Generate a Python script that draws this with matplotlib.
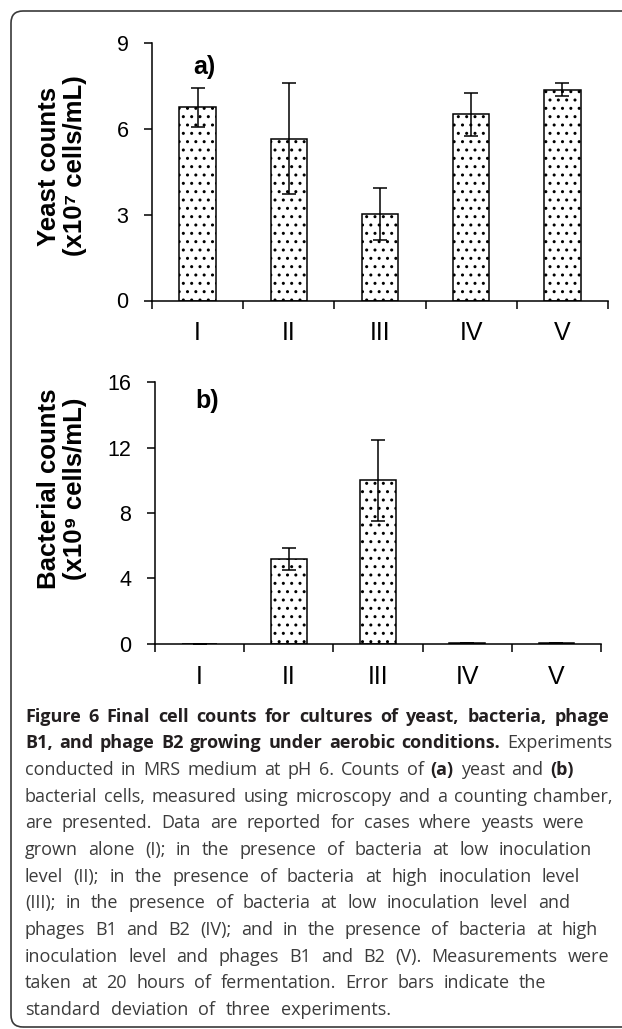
import numpy as np
import matplotlib
matplotlib.use("Agg")
import matplotlib.pyplot as plt
from matplotlib.patches import FancyBboxPatch
from matplotlib.transforms import IdentityTransform

# data
groups = ["I", "II", "III", "IV", "V"]
yeast = [6.75, 5.66, 3.02, 6.51, 7.37]
yeast_sd = [0.67, 1.95, 0.91, 0.75, 0.23]
bact = [0.0, 5.19, 10.0, 0.02, 0.04]
bact_sd = [0.0, 0.65, 2.48, 0.0, 0.0]

W, H = 622, 1029
plt.rcParams['font.family'] = ['Liberation Sans', 'DejaVu Sans']
plt.rcParams['hatch.linewidth'] = 1.0
fig = plt.figure(figsize=(W / 100, H / 100), dpi=100)


def panel(rect, vals, sd, ymax, yticks, tag, tag_y):
    ax = fig.add_axes(rect)
    x = np.arange(1, len(groups) + 1)
    ax.bar(x, vals, width=0.4, color="white", edgecolor="black",
           linewidth=1.1, hatch="..", zorder=2)
    ax.errorbar(x, vals, yerr=sd, fmt="none", ecolor="black",
                elinewidth=1.1, capsize=5, capthick=1.1, zorder=3)
    ax.set_xlim(0.5, len(groups) + 0.5)
    ax.set_ylim(0, ymax)
    ax.set_yticks(yticks)
    ax.set_xticks(np.arange(0.5, len(groups) + 1, 1))
    ax.set_xticklabels([])
    ax.set_xticks(x, minor=True)
    ax.set_xticklabels(groups, minor=True, fontsize=18)
    ax.tick_params(axis="x", which="major", length=6, width=1.1, direction="out")
    ax.tick_params(axis="x", which="minor", length=0, pad=15)
    ax.tick_params(axis="y", length=6, width=1.1, pad=11, labelsize=15.5)
    for s in ["top", "right"]:
        ax.spines[s].set_visible(False)
    for s in ["left", "bottom"]:
        ax.spines[s].set_linewidth(1.1)
    ax.text(0.09, tag_y, tag, transform=ax.transAxes, fontsize=18,
            fontweight="bold", va="center", ha="left")
    return ax


panel([152 / W, 1 - 300.5 / H, 456 / W, 257.5 / H], yeast, yeast_sd, 9,
      [0, 3, 6, 9], "a)", 0.905)
panel([155 / W, 1 - 643.7 / H, 446 / W, 261.4 / H], bact, bact_sd, 16,
      [0, 4, 8, 12, 16], "b)", 0.93)

fig.text(62 / W, 1 - 166 / H, "Yeast counts\n(x10\u2077 cells/mL)", rotation=90,
         ha="center", va="center", fontsize=18.5, fontweight="bold",
         multialignment="center", linespacing=1.1)
fig.text(62 / W, 1 - 489 / H, "Bacterial counts\n(x10\u2079 cells/mL)", rotation=90,
         ha="center", va="center", fontsize=18.5, fontweight="bold",
         multialignment="center", linespacing=1.1)

# rounded frame (runs off the right edge)
frame = FancyBboxPatch((11, 2), 800, 1016, boxstyle="round,pad=0,rounding_size=12",
                       transform=IdentityTransform(), facecolor="none",
                       edgecolor="#3a3a3a", linewidth=1.2)
fig.add_artist(frame)

# caption, set word by word so the lines can be spread like the original
caption = [
    ([("Figure 6 Final cell counts for cultures of yeast, bacteria, phage", True)], 609),
    ([("B1, and phage B2 growing under aerobic conditions.", True), ("Experiments", False)], 612),
    ([("conducted in MRS medium at pH 6. Counts of", False), ("(a)", True),
      ("yeast and", False), ("(b)", True)], 574),
    ([("bacterial cells, measured using microscopy and a counting chamber,", False)], 613),
    ([("are presented. Data are reported for cases where yeasts were", False)], 584),
    ([("grown alone (I); in the presence of bacteria at low inoculation", False)], 592),
    ([("level (II); in the presence of bacteria at high inoculation level", False)], 580),
    ([("(III); in the presence of bacteria at low inoculation level and", False)], 570),
    ([("phages B1 and B2 (IV); and in the presence of bacteria at high", False)], 598),
    ([("inoculation level and phages B1 and B2 (V). Measurements were", False)], 609),
    ([("taken at 20 hours of fermentation. Error bars indicate the", False)], 546),
    ([("standard deviation of three experiments.", False)], 391),
]

renderer = fig.canvas.get_renderer()
x0 = 25
for i, (segs, x1) in enumerate(caption):
    y = 1 - (716.7 + 26.67 * i) / H
    words = [(w, b) for txt, b in segs for w in txt.split()]
    texts = []
    for w, b in words:
        t = fig.text(0, y, w, fontsize=13.0, va="center", ha="left",
                     family=["Open Sans", "DejaVu Sans"],
                     fontweight="bold" if b else "normal",
                     color="#231f20" if b else "#3c3c3c")
        texts.append(t)
    widths = [t.get_window_extent(renderer).width for t in texts]
    gap = (x1 - x0 - sum(widths)) / max(len(words) - 1, 1)
    gap = max(gap, 3)
    x = x0
    for t, w in zip(texts, widths):
        t.set_x(x / W)
        x += w + gap

fig.savefig("out.png", dpi=100)
